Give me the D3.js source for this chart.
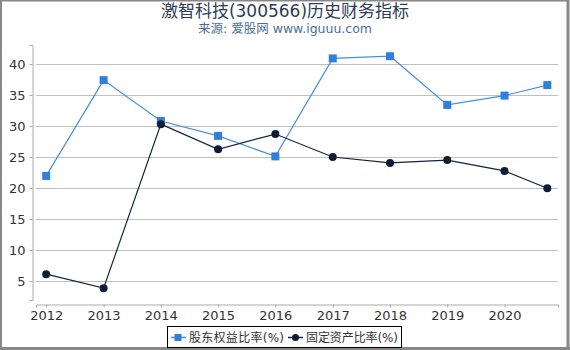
<!DOCTYPE html>
<html>
<head>
<meta charset="utf-8">
<script src="https://cdn.jsdelivr.net/npm/d3@7"></script>
<style>
  body { margin: 0; background: #fff; }
  text { font-family: "DejaVu Sans", "Noto Sans CJK SC", sans-serif; }
</style>
</head>
<body>
<div id="chart"></div>
<script>
// data
var dates = ["2012-01-01", "2013-01-01", "2014-01-01", "2015-01-01", "2016-01-01",
             "2017-01-01", "2018-01-01", "2019-01-01", "2020-01-01", "2020-09-30"];
var equityRatio = [21.95, 37.4, 30.8, 28.4, 25.1, 40.9, 41.25, 33.4, 34.9, 36.6];
var fixedAssetRatio = [6.1, 3.85, 30.3, 26.25, 28.7, 25.0, 24.05, 24.5, 22.75, 19.95];
var xTickYears = [2012, 2013, 2014, 2015, 2016, 2017, 2018, 2019, 2020];
var yTicks = [5, 10, 15, 20, 25, 30, 35, 40];

var W = 570, H = 350;
var parse = d3.timeParse("%Y-%m-%d");

var svg = d3.select("#chart")
  .append("svg")
    .attr("width", W)
    .attr("height", H);

// frame
svg.append("rect")
  .attr("x", 1).attr("y", 0.5)
  .attr("width", W - 3).attr("height", H - 2)
  .attr("fill", "#fff")
  .attr("stroke", "#888").attr("stroke-width", 2);
svg.append("line")
  .attr("x1", W - 2).attr("x2", W - 2).attr("y1", 0).attr("y2", H)
  .attr("stroke", "#888").attr("stroke-width", 3);
svg.append("line")
  .attr("x1", 0).attr("x2", W).attr("y1", H - 1.5).attr("y2", H - 1.5)
  .attr("stroke", "#888").attr("stroke-width", 3);

// titles
svg.append("text")
  .attr("x", 285).attr("y", 17)
  .attr("text-anchor", "middle")
  .attr("font-size", 17)
  .attr("fill", "#2b3d57")
  .text("激智科技(300566)历史财务指标");
svg.append("text")
  .attr("x", 285).attr("y", 33)
  .attr("text-anchor", "middle")
  .attr("font-size", 12.5)
  .attr("fill", "#4b6d9b")
  .text("来源: 爱股网 www.iguuu.com");

var x = d3.scaleTime()
  .domain([parse("2011-10-28"), parse("2020-12-07")])
  .range([36, 558]);

var y = d3.scaleLinear()
  .domain([1.94, 43.06])
  .range([300, 45]);

// gridlines
svg.append("g")
  .selectAll("line")
  .data(yTicks)
  .enter()
  .append("line")
    .attr("x1", 36).attr("x2", 558)
    .attr("y1", function(d) { return Math.round(y(d)) + 0.5; })
    .attr("y2", function(d) { return Math.round(y(d)) + 0.5; })
    .attr("stroke", "#c0c0c0");

// Y axis
var yAxis = svg.append("g")
  .attr("transform", "translate(32.5,0)")
  .call(d3.axisLeft(y).tickValues(yTicks).tickSize(3).tickPadding(4));
yAxis.select(".domain").attr("stroke", "#aaa");
yAxis.selectAll(".tick line").attr("stroke", "#aaa");
yAxis.selectAll("text").attr("font-size", 13).attr("fill", "#333")
  .style("font-family", "DejaVu Sans");

// X axis
var xAxis = svg.append("g")
  .attr("transform", "translate(0,304.5)")
  .call(d3.axisBottom(x)
    .tickValues(xTickYears.map(function(d) { return new Date(d, 0, 1); }))
    .tickFormat(d3.timeFormat("%Y"))
    .tickSizeOuter(0).tickSize(3).tickPadding(3));
xAxis.select(".domain").attr("stroke", "#aaa");
xAxis.selectAll(".tick line").attr("stroke", "#aaa");
xAxis.selectAll("text").attr("font-size", 13).attr("fill", "#333")
  .style("font-family", "DejaVu Sans");

var pts = function(vals) {
  return dates.map(function(d, i) { return {date: parse(d), v: vals[i]}; });
};

var line = d3.line()
  .x(function(d) { return x(d.date); })
  .y(function(d) { return y(d.v); });

// 股东权益比率 series
svg.append("path")
  .datum(pts(equityRatio))
  .attr("d", line)
  .attr("fill", "none")
  .attr("stroke", "#4a8de0")
  .attr("stroke-width", 1.2);
svg.selectAll(".sq")
  .data(pts(equityRatio))
  .enter()
  .append("rect")
    .attr("x", function(d) { return x(d.date) - 4; })
    .attr("y", function(d) { return y(d.v) - 4; })
    .attr("width", 8).attr("height", 8)
    .attr("fill", "#2f7fdc");

// 固定资产比率 series
svg.append("path")
  .datum(pts(fixedAssetRatio))
  .attr("d", line)
  .attr("fill", "none")
  .attr("stroke", "#13233d")
  .attr("stroke-width", 1.2);
svg.selectAll(".dot")
  .data(pts(fixedAssetRatio))
  .enter()
  .append("circle")
    .attr("cx", function(d) { return x(d.date); })
    .attr("cy", function(d) { return y(d.v); })
    .attr("r", 4)
    .attr("fill", "#0f1e36");

// legend
var lg = svg.append("g");
lg.append("rect")
  .attr("x", 167.5).attr("y", 326.5)
  .attr("width", 234).attr("height", 21)
  .attr("fill", "#fff").attr("stroke", "#000");
lg.append("line")
  .attr("x1", 171).attr("x2", 186).attr("y1", 337.5).attr("y2", 337.5)
  .attr("stroke", "#4a8de0").attr("stroke-width", 1.5);
lg.append("rect")
  .attr("x", 174.5).attr("y", 334).attr("width", 7).attr("height", 7)
  .attr("fill", "#2f7fdc");
lg.append("text")
  .attr("x", 189).attr("y", 342)
  .attr("font-size", 12).attr("fill", "#333")
  .attr("textLength", 95)
  .text("股东权益比率(%)");
lg.append("line")
  .attr("x1", 288).attr("x2", 303).attr("y1", 337.5).attr("y2", 337.5)
  .attr("stroke", "#13233d").attr("stroke-width", 1.5);
lg.append("circle")
  .attr("cx", 295.5).attr("cy", 337.5).attr("r", 3.5)
  .attr("fill", "#0f1e36");
lg.append("text")
  .attr("x", 306).attr("y", 342)
  .attr("font-size", 12).attr("fill", "#333")
  .attr("textLength", 92)
  .text("固定资产比率(%)");
</script>
</body>
</html>
